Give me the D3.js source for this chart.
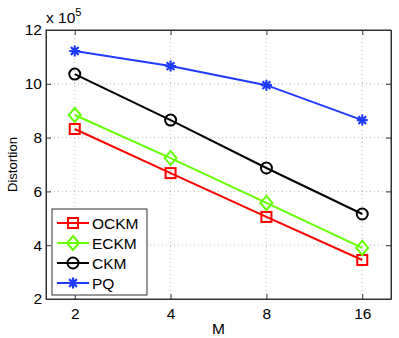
<!DOCTYPE html>
<html>
<head>
<meta charset="utf-8">
<script src="https://cdn.jsdelivr.net/npm/d3@7"></script>
<style>
  body { margin: 0; background: #fff; }
  text { font-family: "Liberation Sans", Arial, sans-serif; }
</style>
</head>
<body>
<div id="chart"></div>
<script>
const categories = ["2", "4", "8", "16"];
const yTicks = [2, 4, 6, 8, 10, 12];
const ockm = [8.32, 6.68, 5.05, 3.45];
const eckm = [8.84, 7.24, 5.57, 3.90];
const ckm = [10.36, 8.65, 6.87, 5.16];
const pq = [11.22, 10.66, 9.95, 8.65];

const series = [
  { name: "OCKM", values: ockm, color: "#ff0000", marker: "square" },
  { name: "ECKM", values: eckm, color: "#66ff00", marker: "diamond" },
  { name: "CKM", values: ckm, color: "#000000", marker: "circle" },
  { name: "PQ", values: pq, color: "#1f3bff", marker: "star" }
];

const width = 399, height = 338;
const margin = { top: 30, right: 8, bottom: 39, left: 46 };
const iw = width - margin.left - margin.right;
const ih = height - margin.top - margin.bottom;

const svg = d3.select("#chart").append("svg").attr("width", width).attr("height", height);
const g = svg.append("g").attr("transform", `translate(${margin.left},${margin.top})`);

const x = d3.scaleLinear().domain([-0.3, 3.3]).range([0, iw]);
const y = d3.scaleLinear().domain([2, 12]).range([ih, 0]);

// grid
g.selectAll(".gx").data(categories).join("line")
  .attr("x1", (d, i) => x(i)).attr("x2", (d, i) => x(i))
  .attr("y1", 0).attr("y2", ih)
  .attr("stroke", "#bbb").attr("stroke-width", 1).attr("stroke-dasharray", "1,3");
g.selectAll(".gy").data(yTicks.slice(1, -1)).join("line")
  .attr("x1", 0).attr("x2", iw)
  .attr("y1", d => y(d)).attr("y2", d => y(d))
  .attr("stroke", "#bbb").attr("stroke-width", 1).attr("stroke-dasharray", "1,3");

// axes with inward ticks
const xAxis = d3.axisBottom(x)
  .tickValues([0, 1, 2, 3]).tickFormat(i => categories[i]).tickSizeInner(-5).tickSizeOuter(0).tickPadding(9);
const yAxis = d3.axisLeft(y).tickValues(yTicks).tickSizeInner(-5).tickSizeOuter(0).tickPadding(4);

g.append("g").attr("transform", `translate(0,${ih})`).call(xAxis);
g.append("g").call(yAxis);
g.append("g").call(d3.axisTop(x).tickValues([0, 1, 2, 3]).tickFormat("").tickSizeInner(-5).tickSizeOuter(0));
g.append("g").attr("transform", `translate(${iw},0)`).call(d3.axisRight(y).tickValues(yTicks).tickFormat("").tickSizeInner(-5).tickSizeOuter(0));
g.selectAll(".domain").attr("stroke", "#333");
g.selectAll(".tick line").attr("stroke", "#333");
g.selectAll(".tick text").attr("font-size", 15.5).attr("fill", "#000")
  .style("font-family", "'Liberation Sans', Arial, sans-serif");

g.append("rect").attr("width", iw).attr("height", ih)
  .attr("fill", "none").attr("stroke", "#333").attr("stroke-width", 1);

// markers
function drawMarker(sel, type, color, cx, cy) {
  if (type === "square") {
    sel.append("rect").attr("x", cx - 5).attr("y", cy - 5).attr("width", 10).attr("height", 10)
      .attr("fill", "none").attr("stroke", color).attr("stroke-width", 2);
  } else if (type === "diamond") {
    sel.append("path").attr("d", `M${cx},${cy - 7}L${cx + 6},${cy}L${cx},${cy + 7}L${cx - 6},${cy}Z`)
      .attr("fill", "none").attr("stroke", color).attr("stroke-width", 2);
  } else if (type === "circle") {
    sel.append("circle").attr("cx", cx).attr("cy", cy).attr("r", 5.5)
      .attr("fill", "none").attr("stroke", color).attr("stroke-width", 2);
  } else {
    const r = 5.5;
    let d = "";
    for (let k = 0; k < 4; k++) {
      const a = k * Math.PI / 4;
      d += `M${cx - r * Math.cos(a)},${cy - r * Math.sin(a)}L${cx + r * Math.cos(a)},${cy + r * Math.sin(a)}`;
    }
    sel.append("path").attr("d", d).attr("stroke", color).attr("stroke-width", 2.2);
  }
}

const line = d3.line().x((d, i) => x(i)).y(d => y(d));
series.forEach(s => {
  g.append("path").datum(s.values).attr("d", line)
    .attr("fill", "none").attr("stroke", s.color).attr("stroke-width", 2);
  const mg = g.append("g");
  s.values.forEach((v, i) => drawMarker(mg, s.marker, s.color, x(i), y(v)));
});

// labels
svg.append("text").attr("x", margin.left + iw / 2).attr("y", 334).attr("text-anchor", "middle")
  .attr("font-size", 15.5).text("M");
svg.append("text").attr("transform", `translate(17,${margin.top + ih / 2}) rotate(-90)`)
  .attr("text-anchor", "middle").attr("font-size", 13).text("Distortion");
const sci = svg.append("text").attr("x", 46).attr("y", 23).attr("font-size", 15.5);
sci.append("tspan").text("x 10");
sci.append("tspan").attr("dy", -7).attr("font-size", 11).text("5");

// legend
const lg = svg.append("g").attr("transform", "translate(52,209)");
lg.append("rect").attr("width", 95).attr("height", 86).attr("fill", "#fff")
  .attr("stroke", "#333").attr("stroke-width", 1);
series.forEach((s, i) => {
  const ly = 14 + i * 20;
  lg.append("line").attr("x1", 5).attr("x2", 37).attr("y1", ly).attr("y2", ly)
    .attr("stroke", s.color).attr("stroke-width", 2);
  drawMarker(lg, s.marker, s.color, 21, ly);
  lg.append("text").attr("x", 40).attr("y", ly + 5.5).attr("font-size", 15.5).text(s.name);
});
</script>
</body>
</html>
